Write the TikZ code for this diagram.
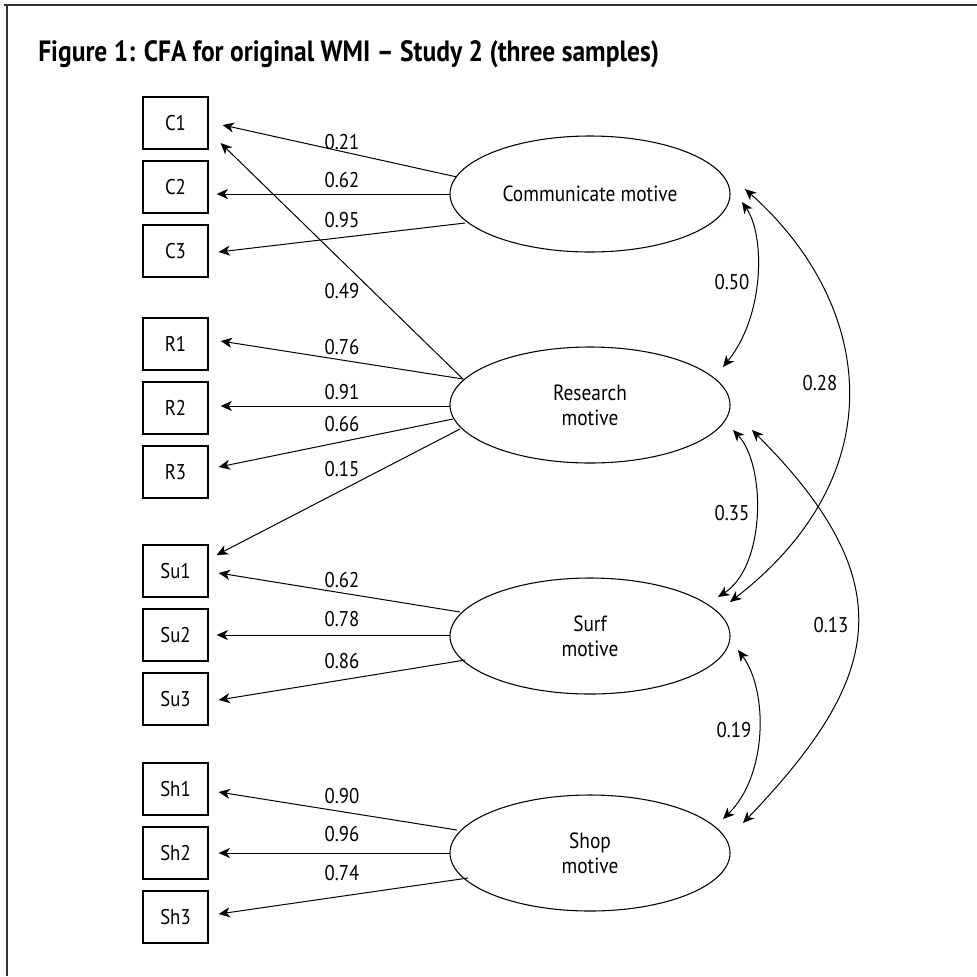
\documentclass[tikz,border=0pt]{standalone}
\usepackage{fontspec}
\setmainfont{PT Sans}
\newfontfamily\condfont[FakeStretch=0.88,Ligatures=TeX]{PT Sans}
\newfontfamily\condbold[FakeStretch=0.87,Ligatures=TeX]{PT Sans Bold}
\usetikzlibrary{arrows.meta,calc,shapes.geometric}
\begin{document}
\begin{tikzpicture}[x=0.75pt,y=-0.75pt,
  ind/.style={draw, line width=0.9pt, minimum width=48.75pt, minimum height=39pt, inner sep=0pt, font=\condfont\fontsize{16}{18}\selectfont},
  lat/.style={draw, ellipse, line width=0.8pt, minimum width=210pt, minimum height=87pt, inner sep=0pt, align=center, font=\condfont\fontsize{16.5}{18.5}\selectfont},
  tipA/.tip={Stealth[length=8.5pt,width=7.5pt,inset=2.5pt]},
  load/.style={-tipA, line width=0.75pt},
  cov/.style={tipA-tipA, line width=0.75pt},
  lbl/.style={font=\condfont\fontsize{16}{18}\selectfont, inner sep=0pt},
  frameline/.style={line width=1.5pt, draw=black!80}]
\useasboundingbox (0,0) rectangle (977,976);
% frame
\coordinate (fTL) at (7,5);
\coordinate (fTR) at (977,5);
\coordinate (fBL) at (7,976);
\draw[frameline] (fTR) -- (4,5) (fTL) -- (fBL);
% title
\node[anchor=base west, inner sep=0pt, font=\condbold\fontsize{22}{26}\selectfont] (title) at (38,61) {Figure 1: CFA for original WMI – Study 2 (three samples)};
% indicators
\node[ind] (C1) at (175.5,123) {C1};
\node[ind] (C2) at (175.5,187) {C2};
\node[ind] (C3) at (175.5,251) {C3};
\node[ind] (R1) at (175.5,344) {R1};
\node[ind] (R2) at (175.5,408) {R2};
\node[ind] (R3) at (175.5,472) {R3};
\node[ind] (Su1) at (175.5,571) {Su1};
\node[ind] (Su2) at (175.5,635) {Su2};
\node[ind] (Su3) at (175.5,699) {Su3};
\node[ind] (Sh1) at (175.5,789) {Sh1};
\node[ind] (Sh2) at (175.5,853) {Sh2};
\node[ind] (Sh3) at (175.5,917) {Sh3};
% latent
\node[lat] (comm) at (590,194) {Communicate motive};
\node[lat] (res) at (590,405) {Research\\motive};
\node[lat] (surf) at (590,636) {Surf\\motive};
\node[lat] (shop) at (590,853) {Shop\\motive};
% loadings
\draw[load] ($(comm.center)+(-133,-17)$) -- ($(C1.east)+(14,2)$);
\draw[load] ($(comm.center)+(-140,0)$) -- ($(C2.east)+(8,7)$);
\draw[load] ($(comm.center)+(-125,29)$) -- ($(C3.east)+(10,1)$);
\draw[load] ($(res.center)+(-127,-26)$) -- ($(C1.east)+(12,20)$);
\draw[load] ($(res.center)+(-127,-26)$) -- ($(R1.east)+(12,-3)$);
\draw[load] ($(res.center)+(-140,1)$) -- ($(R2.east)+(12,-2)$);
\draw[load] ($(res.center)+(-137,14)$) -- ($(R3.east)+(10,-5)$);
\draw[load] ($(res.center)+(-130,24)$) -- ($(Su1.east)+(8,-16)$);
\draw[load] ($(surf.center)+(-130,-24)$) -- ($(Su1.east)+(10,2)$);
\draw[load] ($(surf.center)+(-140,-1)$) -- ($(Su2.east)+(8,0)$);
\draw[load] ($(surf.center)+(-125,24)$) -- ($(Su3.east)+(10,1)$);
\draw[load] ($(shop.center)+(-133,-23)$) -- ($(Sh1.east)+(10,3)$);
\draw[load] ($(shop.center)+(-140,0)$) -- ($(Sh2.east)+(10,0)$);
\draw[load] ($(shop.center)+(-122,25)$) -- ($(Sh3.east)+(10,-3)$);
% loading labels
\node[lbl] (l1) at (342,142) {0.21};
\node[lbl] (l2) at (342,180) {0.62};
\node[lbl] (l3) at (342,220) {0.95};
\node[lbl] (l4) at (342,291) {0.49};
\node[lbl] (l5) at (342,347) {0.76};
\node[lbl] (l6) at (342,392) {0.91};
\node[lbl] (l7) at (342,424) {0.66};
\node[lbl] (l8) at (342,469) {0.15};
\node[lbl] (l9) at (342,580) {0.62};
\node[lbl] (l10) at (342,619) {0.78};
\node[lbl] (l11) at (342,661) {0.86};
\node[lbl] (l12) at (342,796) {0.90};
\node[lbl] (l13) at (342,834) {0.96};
\node[lbl] (l14) at (342,873) {0.74};
% covariances
\draw[cov] ($(comm.center)+(152,8)$) .. controls (765,235) and (765,315) .. ($(res.center)+(133,-38)$);
\draw[cov] ($(comm.center)+(155,-5)$) .. controls (870,300) and (900,470) .. ($(surf.center)+(140,-34)$);
\draw[cov] ($(res.center)+(143,25)$) .. controls (766,465) and (766,566) .. ($(surf.center)+(128,-39)$);
\draw[cov] ($(res.center)+(162,25)$) .. controls (907,585) and (880,680) .. ($(shop.center)+(153,-30)$);
\draw[cov] ($(surf.center)+(148,14)$) .. controls (768,690) and (768,775) .. ($(shop.center)+(133,-34)$);
\node[lbl] (c1) at (732,282) {0.50};
\node[lbl] (c2) at (820,383) {0.28};
\node[lbl] (c3) at (732,513) {0.35};
\node[lbl] (c4) at (831,625) {0.13};
\node[lbl] (c5) at (734,730) {0.19};
\end{tikzpicture}
\end{document}
